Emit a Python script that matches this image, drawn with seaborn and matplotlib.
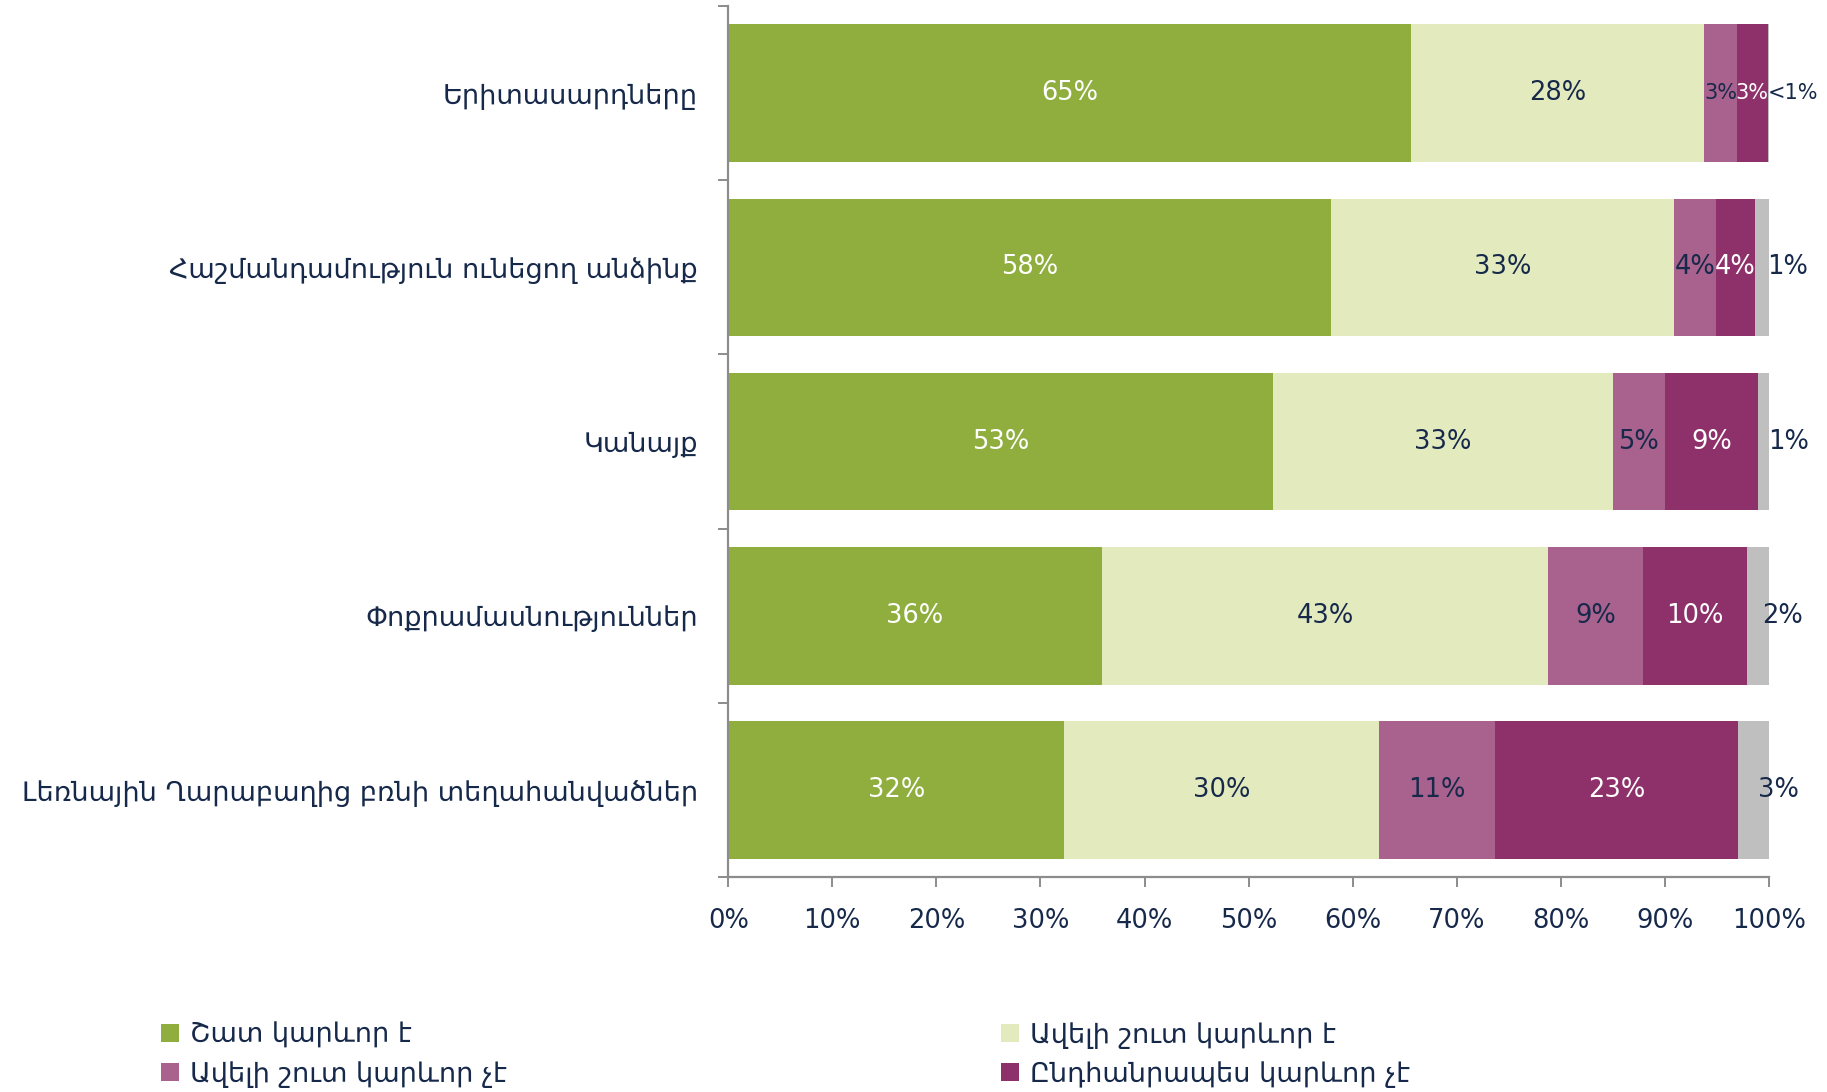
import numpy as np
import pandas as pd
import matplotlib
matplotlib.use("Agg")
import matplotlib.pyplot as plt
from matplotlib.patches import Patch
import seaborn as sns

categories = ["Երիտասարդները",
              "Հաշմանդամություն ունեցող անձինք",
              "Կանայք",
              "Փոքրամասնություններ",
              "Լեռնային Ղարաբաղից բռնի տեղահանվածներ"]
series_names = ["Շատ կարևոր է", "Ավելի շուտ կարևոր է",
                "Ավելի շուտ կարևոր չէ", "Ընդհանրապես կարևոր չէ", "Չգիտեմ"]
very_important = [65.6, 57.9, 52.3, 35.9, 32.3]
rather_important = [28.2, 33.0, 32.7, 42.9, 30.2]
rather_not = [3.1, 4.0, 5.0, 9.1, 11.2]
not_at_all = [3.0, 3.8, 9.0, 10.0, 23.3]
dont_know = [0.1, 1.3, 1.0, 2.1, 3.0]

lab_very = ["65%", "58%", "53%", "36%", "32%"]
lab_rather = ["28%", "33%", "33%", "43%", "30%"]
lab_rather_not = ["3%", "4%", "5%", "9%", "11%"]
lab_not = ["3%", "4%", "9%", "10%", "23%"]
lab_dk = ["<1%", "1%", "1%", "2%", "3%"]

xticks = [0, 10, 20, 30, 40, 50, 60, 70, 80, 90, 100]

colors = ["#8FAE3E", "#E3EBBE", "#A8628D", "#8E316B", "#BFBFBF"]
text_dark = "#16294A"
label_colors = ["white", text_dark, text_dark, "white", text_dark]

sns.set_theme(style="white")
plt.rcParams['font.family'] = ['DejaVu Sans']

series = [very_important, rather_important, rather_not, not_at_all, dont_know]
labels = [lab_very, lab_rather, lab_rather_not, lab_not, lab_dk]
cum = np.cumsum(np.array(series), axis=0)

fig = plt.figure(figsize=(18.27, 10.92), dpi=100)
ax = fig.add_axes([0.3986, 0.1967, 0.5696, 0.7978])

# draw cumulative layers from the total down (stacked bars)
for i in range(len(series) - 1, -1, -1):
    df = pd.DataFrame({"cat": categories, "val": cum[i]})
    sns.barplot(data=df, y="cat", x="val", orient="h", color=colors[i],
                saturation=1, width=0.79, ax=ax, order=categories,
                linewidth=0, edgecolor="none")

# segment labels
for i in range(len(series)):
    for j in range(len(categories)):
        left = cum[i - 1][j] if i > 0 else 0.0
        width = series[i][j]
        center = left + width / 2
        fs = 18.5
        if i == len(series) - 1:
            center += 2.4
        crowded = (i in (2, 3) and width < 3.5) or (i == 4 and width < 0.5)
        if crowded:
            fs = 15
        ax.text(center, j, labels[i][j], ha="center", va="center",
                fontsize=fs, color=label_colors[i])

ax.set_xlim(0, 100)
ax.set_ylim(4.5, -0.5)
ax.set_xticks(xticks)
ax.set_xticklabels([f"{t}%" for t in xticks])
ax.set_xlabel("")
ax.set_ylabel("")
ax.set_yticks(range(len(categories)))
ax.set_yticklabels(categories)
ax.set_yticks(np.arange(-0.5, len(categories), 1.0), minor=True)

for s in ["top", "right"]:
    ax.spines[s].set_visible(False)
for s in ["left", "bottom"]:
    ax.spines[s].set_visible(True)
    ax.spines[s].set_color("#8C8C8C")
    ax.spines[s].set_linewidth(1.6)

ax.tick_params(axis="x", which="major", length=7, width=1.4, color="#8C8C8C",
               direction="out", bottom=True, pad=15, labelsize=18.5, labelcolor=text_dark)
ax.tick_params(axis="y", which="major", length=0, pad=22, labelsize=19.5,
               labelcolor=text_dark)
ax.tick_params(axis="y", which="minor", length=7, width=1.4, color="#8C8C8C",
               direction="out", left=True)
ax.grid(False)

handles = [Patch(facecolor=colors[k], edgecolor="none") for k in range(4)]
order = [0, 2, 1, 3]
fig.legend([handles[k] for k in order], [series_names[k] for k in order],
           ncol=2, loc="center left", bbox_to_anchor=(0.075, 0.034),
           frameon=False, fontsize=19.5, labelcolor=text_dark,
           handlelength=0.65, handleheight=0.65, handletextpad=0.4,
           columnspacing=18.25, labelspacing=0.45)

fig.savefig("out.png", dpi=100, facecolor="white")
